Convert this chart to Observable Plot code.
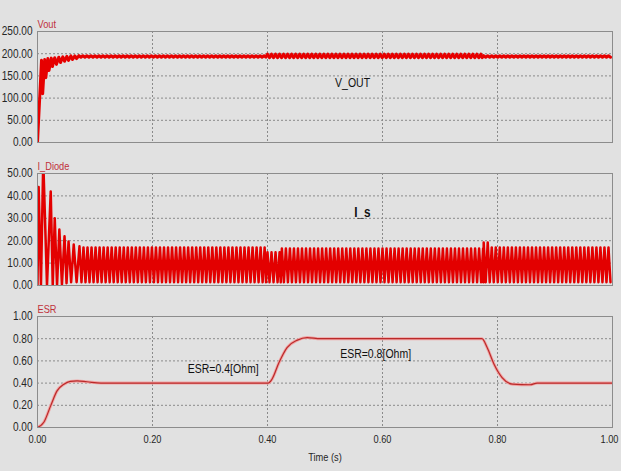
<!DOCTYPE html>
<html>
<head>
<meta charset="utf-8">
<script src="https://cdn.jsdelivr.net/npm/d3@7"></script>
<script src="https://cdn.jsdelivr.net/npm/@observablehq/plot@0.6"></script>
<style>
  html, body { margin: 0; padding: 0; background: #e1e1e1; }
  #wrap { position: relative; width: 621px; height: 471px; background: #e1e1e1; overflow: hidden; }
  .pane { position: absolute; left: 0; }
  .pane svg { overflow: visible; }
</style>
</head>
<body>
<div id="wrap">
  <div class="pane" id="p1" style="top:0px"></div>
  <div class="pane" id="p2" style="top:150px"></div>
  <div class="pane" id="p3" style="top:290px"></div>
</div>
<script>
// ---------------- data ----------------
const xTicks = [0, 0.2, 0.4, 0.6, 0.8, 1.0];
const vTicks = [0, 50, 100, 150, 200, 250];
const iTicks = [0, 10, 20, 30, 40, 50];
const eTicks = [0, 0.2, 0.4, 0.6, 0.8, 1.0];

const panelTitles = ["Vout", "I_Diode", "ESR"];

// switching period of the ripple (s)
const ripplePeriod = 0.007;

// V_out start-up transient (explicit points)
const vStartT = [0, 0.007, 0.009, 0.0125, 0.0145, 0.018, 0.020, 0.024, 0.026, 0.030, 0.033, 0.037, 0.040, 0.044, 0.047, 0.051, 0.054, 0.058, 0.061, 0.065, 0.068];
const vStartV = [0, 185, 110, 187, 146, 189, 162, 190, 171, 191, 176, 192, 180, 193, 183, 194, 185, 195, 187, 195, 189];
// V_out ripple segments
const vSegFrom   = [0.072, 0.400, 0.776];
const vSegTo     = [0.400, 0.776, 1.000];
const vSegPeak   = [195.5, 199, 195.5];
const vSegTrough = [192, 191, 192];

// I_Diode start-up teeth (explicit)
const iExplT      = [0.002, 0.010, 0.023, 0.030, 0.038, 0.047, 0.054, 0.063, 0.073];
const iExplPeak   = [44, 56, 42, 30, 25, 22, 19.6, 18.3, 17.5];
const iExplTrough = [0, 0, 0, 0, 0.5, 1, 1.5, 1.5, 1.5];
// I_Diode ripple segments
const iSegFrom   = [0.080, 0.400, 0.425, 0.776, 0.790];
const iSegTo     = [0.400, 0.425, 0.776, 0.790, 1.000];
const iSegPeak   = [17, 14.8, 16.5, 19.2, 17];
const iSegTrough = [1.5, 1.5, 1.5, 1.5, 1.5];

// ESR trace
const esrT = [0, 0.011, 0.023, 0.034, 0.046, 0.057, 0.069, 0.086, 0.11, 0.401, 0.408, 0.42, 0.434, 0.452, 0.469, 0.492, 0.773, 0.782, 0.794, 0.808, 0.826, 0.857, 0.869, 1.0];
const esrV = [0, 0.047, 0.197, 0.33, 0.39, 0.415, 0.42, 0.412, 0.40, 0.40, 0.437, 0.585, 0.72, 0.787, 0.81, 0.80, 0.80, 0.72, 0.57, 0.45, 0.39, 0.385, 0.40, 0.40];

// annotations
const vLabel = ["V_OUT"], vLabelT = [0.548], vLabelV = [133];
const iLabel = ["I_s"],   iLabelT = [0.565], iLabelV = [32.6];
const eLabel = ["ESR=0.4[Ohm]", "ESR=0.8[Ohm]"], eLabelT = [0.323, 0.588], eLabelV = [0.53, 0.66];

// ---------------- build the traces ----------------
function teethFromSegments(from, to, peak, trough) {
  const out = [];
  from.forEach((f, i) => {
    for (let t = f; t < to[i] - 1e-9; t += ripplePeriod) out.push({t, peak: peak[i], trough: trough[i]});
  });
  return out;
}
function zigzag(teeth) {
  teeth.sort((a, b) => a.t - b.t);
  const pts = [];
  teeth.forEach((d, k) => {
    pts.push({t: d.t, v: d.peak});
    const next = teeth[k + 1];
    const tn = next ? (d.t + next.t) / 2 : Math.min(1, d.t + ripplePeriod / 2);
    pts.push({t: tn, v: d.trough});
  });
  return pts;
}

const vData = vStartT.map((t, i) => ({t, v: vStartV[i]}))
  .concat(zigzag(teethFromSegments(vSegFrom, vSegTo, vSegPeak, vSegTrough)));

const iData = [{t: 0, v: 0}].concat(zigzag(
  iExplT.map((t, i) => ({t, peak: iExplPeak[i], trough: iExplTrough[i]}))
    .concat(teethFromSegments(iSegFrom, iSegTo, iSegPeak, iSegTrough))));

const eData = esrT.map((t, i) => ({t, v: esrV[i]}));

// ---------------- drawing ----------------
const FONT = '"Liberation Sans", Arial, sans-serif';
const NARROW_SCALE = 0.84;   // emulate a narrow face
const gridStyle = {stroke: "#8a8a8a", strokeOpacity: 1, strokeDasharray: "2,2", strokeWidth: 1};
const titleColor = "#c0303a";

function narrowTexts(svg) {
  svg.querySelectorAll("text").forEach(t => {
    const L = t.getComputedTextLength();
    if (L > 0) {
      t.setAttribute("textLength", (L * NARROW_SCALE).toFixed(2));
      t.setAttribute("lengthAdjust", "spacingAndGlyphs");
    }
  });
}

function xAxisMarks() {
  const opts = {tickFormat: d3.format(".2f"), tickSize: 0, tickPadding: 8, fontSize: 11, label: null};
  return [
    Plot.axisX(xTicks.slice(0, -1), opts),
    Plot.axisX(xTicks.slice(-1), {...opts, dx: -3})
  ];
}

function panel(host, {height, marginTop, marginBottom, yDomain, yTicks, title, traces, labels, showX}) {
  const svg = Plot.plot({
    width: 621, height, marginLeft: 37, marginRight: 9, marginTop, marginBottom,
    style: {background: "transparent", fontFamily: FONT, fontSize: "12px", color: "#262626", overflow: "visible"},
    x: {domain: [0, 1], axis: null, label: null},
    y: {domain: yDomain, ticks: yTicks, tickFormat: d3.format(".2f"), tickSize: 0, tickPadding: 5, label: null},
    marks: [
      Plot.gridX(xTicks.slice(1, -1), gridStyle),
      Plot.gridY(yTicks.slice(1, -1), gridStyle),
      ...traces,
      Plot.frame({stroke: "#8c8c8c", strokeWidth: 1}),
      Plot.text([title], {frameAnchor: "top-left", lineAnchor: "bottom", dy: -4, dx: 0,
        fill: titleColor, fontSize: 11, fontFamily: FONT}),
      ...labels,
      ...(showX ? [
        ...xAxisMarks(),
        Plot.text(["Time (s)"], {frameAnchor: "bottom", lineAnchor: "middle", dy: 30,
          fill: "#262626", fontSize: 11, fontFamily: FONT})
      ] : [])
    ]
  });
  document.getElementById(host).append(svg);
  narrowTexts(svg);
}

panel("p1", {
  height: 150, marginTop: 31, marginBottom: 8, yDomain: [0, 250], yTicks: vTicks, title: panelTitles[0],
  traces: [Plot.line(vData, {x: "t", y: "v", stroke: "#e60000", strokeWidth: 3, clip: true})],
  labels: [Plot.text(vLabel, {x: (d, i) => vLabelT[i], y: (d, i) => vLabelV[i], text: d => d,
    fill: "#111", fontSize: 12.5, fontFamily: FONT})],
  showX: false
});

panel("p2", {
  height: 145, marginTop: 23, marginBottom: 10, yDomain: [0, 50], yTicks: iTicks, title: panelTitles[1],
  traces: [Plot.line(iData, {x: "t", y: "v", stroke: "#e30000", strokeWidth: 2.5, clip: true})],
  labels: [Plot.text(iLabel, {x: (d, i) => iLabelT[i], y: (d, i) => iLabelV[i], text: d => d,
    fill: "#111", fontSize: 14, fontWeight: "bold", fontFamily: FONT})],
  showX: false
});

panel("p3", {
  height: 181, marginTop: 26, marginBottom: 44, yDomain: [0, 1], yTicks: eTicks, title: panelTitles[2],
  traces: [
    Plot.line(eData, {x: "t", y: "v", stroke: "#f2a3a3", strokeWidth: 3, curve: "monotone-x", clip: true}),
    Plot.line(eData, {x: "t", y: "v", stroke: "#b92a2a", strokeWidth: 1.2, curve: "monotone-x", clip: true})
  ],
  labels: [Plot.text(eLabel, {x: (d, i) => eLabelT[i], y: (d, i) => eLabelV[i], text: d => d,
    fill: "#111", fontSize: 12.5, fontFamily: FONT})],
  showX: true
});
</script>
</body>
</html>
